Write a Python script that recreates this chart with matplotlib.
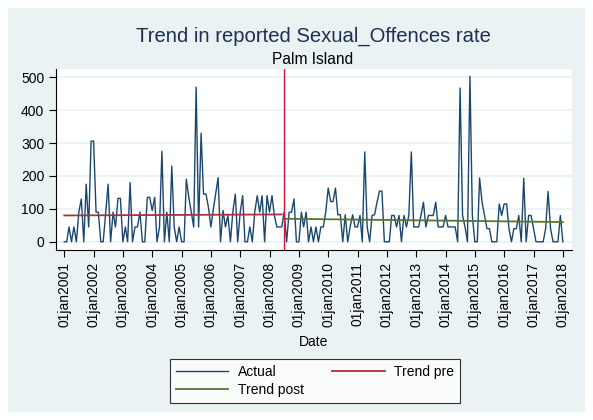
import matplotlib

matplotlib.use("Agg")

import matplotlib.pyplot as plt
import matplotlib.dates as mdates
from matplotlib.patches import Rectangle
import pandas as pd

# Monthly reported rate, Jan 2001 - Jan 2018
rate = [
    0, 0, 45, 0, 45, 0, 90, 130, 0, 175, 45, 306,
    306, 90, 90, 0, 0, 90, 175, 0, 90, 45, 132, 132,
    0, 45, 0, 180, 0, 45, 45, 90, 0, 0, 135, 135,
    95, 135, 0, 45, 275, 0, 90, 0, 230, 45, 0, 45,
    0, 0, 190, 135, 90, 45, 470, 45, 330, 145, 145, 105,
    45, 100, 145, 195, 0, 95, 45, 80, 0, 90, 145, 0,
    90, 140, 0, 0, 45, 0, 90, 140, 90, 140, 0, 140,
    90, 140, 80, 45, 45, 45, 90, 0, 90, 90, 130, 0,
    0, 90, 45, 90, 0, 45, 0, 45, 0, 45, 45, 90,
    163, 122, 122, 163, 82, 82, 0, 82, 0, 45, 82, 45,
    45, 80, 0, 273, 45, 0, 80, 82, 120, 154, 154, 0,
    0, 0, 80, 80, 45, 80, 0, 80, 45, 80, 273, 45,
    45, 45, 80, 120, 45, 80, 80, 80, 120, 45, 45, 45,
    80, 45, 45, 45, 45, 0, 467, 80, 45, 0, 503, 80,
    0, 0, 194, 120, 80, 40, 40, 0, 0, 0, 115, 80,
    115, 115, 40, 0, 40, 40, 80, 0, 193, 0, 80, 80,
    40, 0, 0, 0, 0, 40, 153, 40, 0, 0, 0, 80,
    0,
]
dates = pd.date_range("2001-01-01", periods=len(rate), freq="MS")

# Fitted trend endpoints before / after the July 2008 break
break_date = pd.Timestamp("2008-07-01")
trend_pre_dates = [pd.Timestamp("2001-01-01"), pd.Timestamp("2008-06-01")]
trend_pre = [80, 83]
trend_post_dates = [pd.Timestamp("2008-07-01"), pd.Timestamp("2018-01-01")]
trend_post = [70, 60]

years = list(range(2001, 2019))
yticks = [0, 100, 200, 300, 400, 500]

NAVY = "#1A476F"
MAROON = "#A8323E"
GREEN = "#55752F"
BG = "#EAF2F3"

plt.rcParams["font.family"] = ["Liberation Sans", "DejaVu Sans"]

W, H = 593, 420
fig = plt.figure(figsize=(W / 100, H / 100), dpi=100)
fig.patch.set_facecolor("white")
fig.patches.append(Rectangle((8 / W, 8 / H), 577 / W, 404 / H, transform=fig.transFigure,
                             facecolor=BG, edgecolor="none", zorder=-10))

ax = fig.add_axes([56 / W, 1 - 250 / H, 516 / W, 181 / H])
ax.set_zorder(1)
ax.set_facecolor("white")
for side in ["top", "right"]:
    ax.spines[side].set_visible(False)
for side in ["left", "bottom"]:
    ax.spines[side].set_color("black")
    ax.spines[side].set_linewidth(0.8)

ax.grid(True, axis="y", color=BG, linewidth=1.2)
ax.set_axisbelow(True)

ax.plot(dates, rate, color=NAVY, linewidth=1.0, label="Actual", zorder=3)
ax.plot(trend_pre_dates, trend_pre, color=MAROON, linewidth=1.3, label="Trend pre", zorder=4)
ax.plot(trend_post_dates, trend_post, color=GREEN, linewidth=1.3, label="Trend post", zorder=4)
ax.axvline(break_date, color="#D9143C", linewidth=1.0, zorder=5)

ax.set_ylim(-25, 525)
ax.set_yticks(yticks)
ax.set_yticklabels([str(v) for v in yticks], fontsize=10)

ax.set_xlim(mdates.date2num(pd.Timestamp("2000-09-20")), mdates.date2num(pd.Timestamp("2018-04-25")))
ax.set_xticks([pd.Timestamp(f"{y}-01-01") for y in years])
ax.set_xticklabels([f"01jan{y}" for y in years], rotation=90, fontsize=10)
ax.tick_params(axis="both", length=5, width=0.8, color="black")
ax.set_xlabel("Date", fontsize=10, labelpad=6)

fig.text(313 / W, 1 - 36 / H, "Trend in reported Sexual_Offences rate", ha="center", va="center",
         fontsize=14.6, color="#1E2F4F")
fig.text(313 / W, 1 - 59 / H, "Palm Island", ha="center", va="center", fontsize=11.2, color="black")

handles, labels = ax.get_legend_handles_labels()
order = [0, 2, 1]
leg = fig.legend([handles[i] for i in order], [labels[i] for i in order],
                 loc="center", bbox_to_anchor=(315 / W, 1 - 381 / H), ncol=2,
                 fontsize=10, frameon=True, fancybox=False, handlelength=3.8,
                 columnspacing=2.0, handletextpad=0.7, borderpad=0.4, labelspacing=0.3)
leg.get_frame().set_edgecolor("black")
leg.get_frame().set_linewidth(0.8)
leg.get_frame().set_facecolor("white")

fig.savefig("out.png", dpi=100, facecolor="white")
